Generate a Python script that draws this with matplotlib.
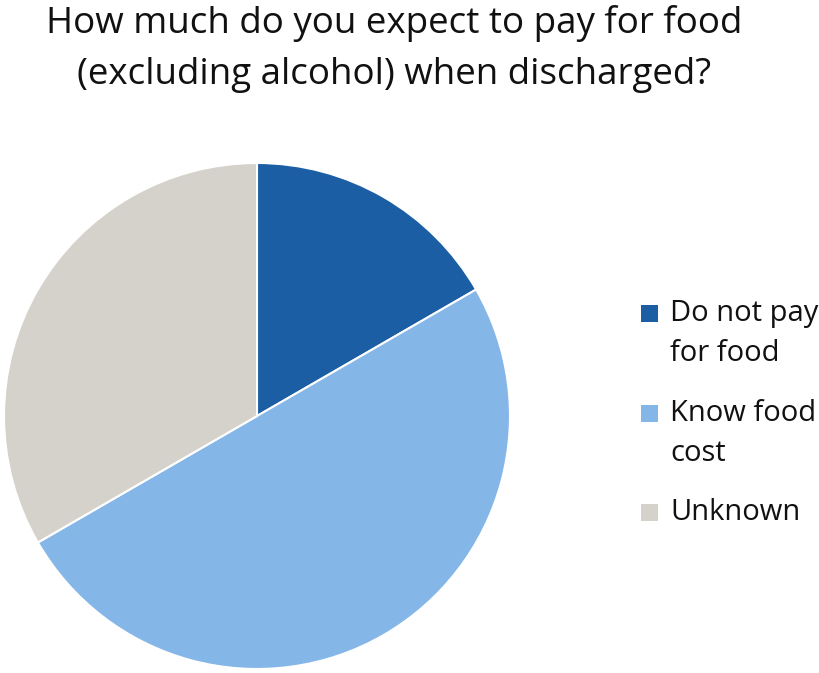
import matplotlib.pyplot as plt
from matplotlib.patches import Rectangle

categories = ["Do not pay\nfor food", "Know food\ncost", "Unknown"]
shares = [1, 3, 2]
colors = ["#1B5EA4", "#85B6E8", "#D5D2CB"]

plt.rcParams["font.family"] = ["Open Sans", "DejaVu Sans"]

fig = plt.figure(figsize=(8.19, 6.73), dpi=100)

ax = fig.add_axes([4 / 819, 4 / 673, 506 / 819, 506 / 673])
ax.pie(
    shares,
    colors=colors,
    startangle=90,
    counterclock=False,
    wedgeprops=dict(edgecolor="white", linewidth=1.5),
)
ax.set_xlim(-1, 1)
ax.set_ylim(-1, 1)
ax.set_aspect("equal")

fig.text(
    0.481, 1 - 5 / 673,
    "How much do you expect to pay for food\n(excluding alcohol) when discharged?",
    ha="center", va="top", fontsize=26.5, linespacing=1.55, color="#111111",
)

# legend drawn by hand so each square sits on the first line of its label
rows = [313, 413, 512]
for label, color, y in zip(categories, colors, rows):
    yy = 1 - y / 673
    fig.patches.append(Rectangle(
        (641 / 819, yy - 8.5 / 673), 17 / 819, 17 / 673,
        transform=fig.transFigure, facecolor=color, edgecolor="none",
    ))
    fig.text(670 / 819, yy + 14 / 673, label, ha="left", va="top",
             fontsize=21, linespacing=1.52, color="#111111")

fig.savefig("out.png", dpi=100)
